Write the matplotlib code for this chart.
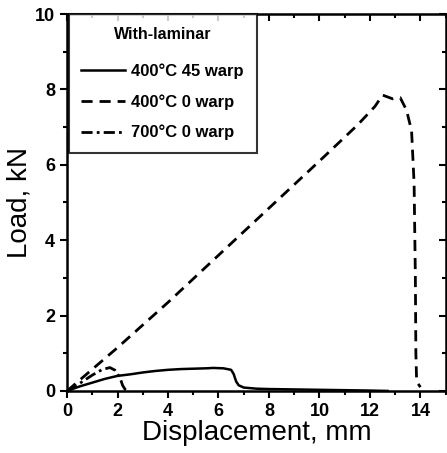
import matplotlib
matplotlib.use('Agg')
import matplotlib.pyplot as plt
from matplotlib.ticker import MultipleLocator

plt.rcParams['font.family'] = ['Liberation Sans', 'DejaVu Sans']

# 400C 45 warp (solid)
disp_45 = [0, 0.5, 1.0, 1.5, 2.0, 2.5, 3.0, 3.5, 4.0, 4.5, 5.0, 5.5, 5.8, 6.2, 6.5, 6.6, 6.7, 6.8, 7.0, 7.5, 8.0, 9.0, 10.0, 11.0, 12.0, 12.7]
load_45 = [0, 0.12, 0.22, 0.32, 0.40, 0.44, 0.49, 0.53, 0.56, 0.58, 0.59, 0.60, 0.61, 0.60, 0.56, 0.45, 0.25, 0.15, 0.09, 0.06, 0.05, 0.04, 0.03, 0.02, 0.01, 0.0]

# 400C 0 warp (dashed)
disp_0 = [0, 2, 4, 6, 8, 10, 11.5, 12.2, 12.5, 12.9, 13.2, 13.45, 13.65, 13.75, 13.8, 13.82, 13.85, 14.0]
load_0 = [0, 1.15, 2.35, 3.6, 4.85, 6.1, 7.05, 7.55, 7.85, 7.75, 7.78, 7.45, 6.9, 5.5, 3.0, 1.0, 0.25, 0.1]

# 700C 0 warp (dash-dot)
disp_700 = [0, 0.5, 1.0, 1.4, 1.7, 1.9, 2.1, 2.2, 2.3, 2.4]
load_700 = [0, 0.2, 0.42, 0.57, 0.62, 0.55, 0.35, 0.15, 0.04, 0.0]

labels = ['400°C 45 warp', '400°C 0 warp', '700°C 0 warp']
legend_title = 'With-laminar'

fig = plt.figure(figsize=(4.47, 4.53), dpi=100)
ax = fig.add_axes([0.150, 0.137, 0.847, 0.832])

ax.plot(disp_45, load_45, color='black', lw=1.8, linestyle='-', label=labels[0])
ax.plot(disp_0, load_0, color='black', lw=2.0, linestyle=(0, (4, 2.5)), label=labels[1])
ax.plot(disp_700, load_700, color='black', lw=2.0, linestyle=(0, (4, 1.5, 1, 1.5)), label=labels[2])

ax.set_xlim(0, 15)
ax.set_ylim(0, 10)
ax.set_xticks([0, 2, 4, 6, 8, 10, 12, 14])
ax.xaxis.set_minor_locator(MultipleLocator(1))
ax.yaxis.set_major_locator(MultipleLocator(2))
ax.yaxis.set_minor_locator(MultipleLocator(1))

ax.tick_params(which='both', direction='out', top=False, right=False, width=1.5)
ax.tick_params(which='major', length=5, labelsize=13)
ax.tick_params(which='minor', length=3)
for lab in ax.get_xticklabels() + ax.get_yticklabels():
    lab.set_fontweight('bold')

# inward ticks on top and right
sec_x = ax.secondary_xaxis('top')
sec_x.set_xticks([0, 2, 4, 6, 8, 10, 12, 14])
sec_x.xaxis.set_minor_locator(MultipleLocator(1))
sec_x.tick_params(which='both', direction='in', labeltop=False, width=1.5)
sec_x.tick_params(which='major', length=5)
sec_x.tick_params(which='minor', length=3)
sec_y = ax.secondary_yaxis('right')
sec_y.yaxis.set_major_locator(MultipleLocator(2))
sec_y.yaxis.set_minor_locator(MultipleLocator(1))
sec_y.tick_params(which='both', direction='in', labelright=False, width=1.5)
sec_y.tick_params(which='major', length=5)
sec_y.tick_params(which='minor', length=3)

for s in ax.spines.values():
    s.set_linewidth(1.8)

ax.set_xlabel('Displacement, mm', fontsize=20, labelpad=0)
ax.set_ylabel('Load, kN', fontsize=20, labelpad=2)

leg = ax.legend(loc='upper left', bbox_to_anchor=(0.005, 1.0), title=legend_title,
                frameon=True, fancybox=False, edgecolor='black',
                prop={'weight': 'bold', 'size': 12},
                handlelength=2.6, handletextpad=0.4, borderaxespad=0.0,
                labelspacing=0.9, borderpad=0.75,
                title_fontproperties={'weight': 'bold', 'size': 11.5})
leg.get_frame().set_linewidth(1.5)
leg._legend_box.sep = 16

fig.savefig('out.png', dpi=100)
